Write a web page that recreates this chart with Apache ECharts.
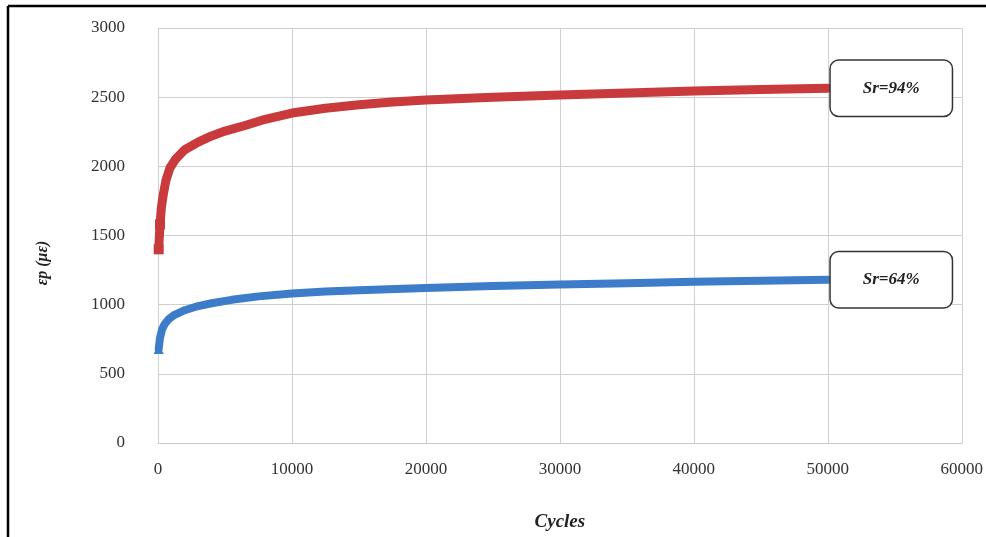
<!DOCTYPE html>
<html>
<head>
<meta charset="utf-8">
<script src="https://cdn.jsdelivr.net/npm/echarts@6/dist/echarts.min.js"></script>
<style>html,body{margin:0;padding:0;background:#fff;}#c{width:986px;height:537px;}</style>
</head>
<body>
<div id="c"></div>
<script>
// Sr=94% series
var redCycles = [50, 150, 250, 400, 600, 900, 1300, 2000, 3000, 4000, 5000, 6500, 8000, 10000, 12500, 15000, 17500, 20000, 25000, 30000, 35000, 40000, 45000, 50000];
var redStrain = [1400, 1580, 1700, 1800, 1900, 1990, 2050, 2120, 2175, 2220, 2255, 2295, 2340, 2385, 2420, 2445, 2465, 2480, 2500, 2515, 2530, 2545, 2555, 2565];
// Sr=64% series
var blueCycles = [50, 150, 300, 500, 800, 1200, 2000, 3000, 4000, 5500, 7500, 10000, 12500, 15000, 20000, 25000, 30000, 35000, 40000, 45000, 50000];
var blueStrain = [680, 760, 820, 860, 895, 925, 960, 990, 1010, 1035, 1060, 1080, 1095, 1105, 1120, 1135, 1145, 1155, 1165, 1172, 1180];
var labels = ['Sr=94%', 'Sr=64%'];
var xTicks = [0, 10000, 20000, 30000, 40000, 50000, 60000];
var yTicks = [0, 500, 1000, 1500, 2000, 2500, 3000];

function build(xs, ys, markSymbol, markCount) {
  return xs.map(function (x, i) {
    var d = { value: [x, ys[i]] };
    if (i < markCount) { d.symbol = markSymbol; d.symbolSize = 10; }
    return d;
  });
}

var serif = '"Liberation Serif", "DejaVu Serif", serif';
var labelStyle = function (txt) {
  return {
    show: true,
    formatter: txt,
    fontFamily: serif,
    fontStyle: 'italic',
    fontWeight: 'bold',
    fontSize: 17,
    color: '#222',
    backgroundColor: '#fff',
    borderColor: '#333',
    borderWidth: 1.5,
    borderRadius: 8,
    padding: [19, 32, 19, 32],
    distance: 3
  };
};

var chart = echarts.init(document.getElementById('c'));
chart.setOption({
  animation: false,
  backgroundColor: '#fff',
  grid: { left: 158, right: 24, top: 28, bottom: 92, containLabel: false },
  xAxis: {
    type: 'value', min: 0, max: 60000, interval: 10000,
    name: 'Cycles', nameLocation: 'middle', nameGap: 70,
    nameTextStyle: { fontFamily: serif, fontStyle: 'italic', fontWeight: 'bold', fontSize: 19, color: '#222' },
    axisLine: { show: true, lineStyle: { color: '#c8c8c8', width: 1 } },
    axisTick: { show: false },
    axisLabel: { fontFamily: serif, fontSize: 17, color: '#333', margin: 18,
      formatter: function (v) { return xTicks.indexOf(v) >= 0 ? String(v) : ''; } },
    splitLine: { show: true, lineStyle: { color: '#d0d0d0', width: 1 } }
  },
  yAxis: {
    type: 'value', min: 0, max: 3000, interval: 500,
    axisLine: { show: false },
    axisTick: { show: false },
    axisLabel: { fontFamily: serif, fontSize: 17, color: '#333', margin: 33,
      formatter: function (v) { return yTicks.indexOf(v) >= 0 ? String(v) : ''; } },
    splitLine: { show: true, lineStyle: { color: '#d0d0d0', width: 1 } }
  },
  series: [
    {
      type: 'line', name: labels[0],
      data: build(redCycles, redStrain, 'rect', 2),
      symbol: 'none', showSymbol: true,
      itemStyle: { color: '#c83a3c' },
      lineStyle: { color: '#c83a3c', width: 9, cap: 'round', join: 'round' },
      endLabel: labelStyle(labels[0]),
      z: 3
    },
    {
      type: 'line', name: labels[1],
      data: build(blueCycles, blueStrain, 'triangle', 1),
      symbol: 'none', showSymbol: true,
      itemStyle: { color: '#3d7cc9' },
      lineStyle: { color: '#3d7cc9', width: 8, cap: 'round', join: 'round' },
      endLabel: labelStyle(labels[1]),
      z: 3
    }
  ],
  graphic: [
    { type: 'line', shape: { x1: 8, y1: 6, x2: 8, y2: 537 }, style: { stroke: '#000', lineWidth: 2.5 } },
    { type: 'line', shape: { x1: 8, y1: 6, x2: 986, y2: 6 }, style: { stroke: '#000', lineWidth: 2.5 } },
    { type: 'text', x: 43, y: 263, rotation: Math.PI / 2,
      style: { text: 'εp (με)', fontFamily: serif, fontStyle: 'italic', fontWeight: 'bold', fontSize: 16,
        fill: '#222', align: 'center', verticalAlign: 'middle' } }
  ]
});
</script>
</body>
</html>
